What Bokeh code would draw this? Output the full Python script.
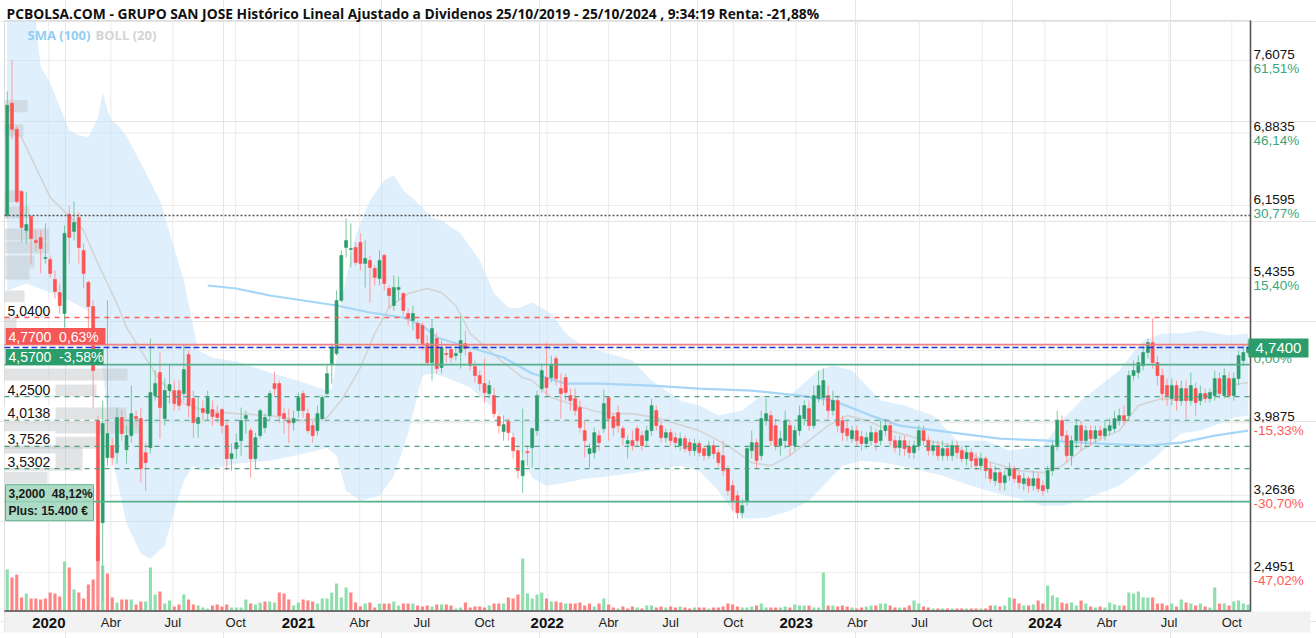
import datetime as dt
from bokeh.plotting import figure
from bokeh.models import Range1d
from bokeh.embed import file_html
from bokeh.resources import INLINE
from bokeh.core.properties import value

# ---------------- weekly candles (first week ends 2019-11-01) ----------------
opens = [
6.06,7.18,6.92,6.30,5.91,6.05,5.81,5.84,5.63,5.62, 5.42,5.29,5.08,6.07,5.90,6.04,5.71,5.39,5.15,4.01,
2.99,3.64,3.76,3.69,4.04,3.72,3.86,4.05,4.03,3.69, 3.74,4.26,4.49,4.03,4.31,4.31,4.31,4.28,4.67,4.23,
3.98,4.13,4.08,4.12,4.08,4.12,3.96,3.63,3.73,3.81, 4.03,3.91,3.63,3.86,3.94,4.06,4.38,4.38,4.08,4.01,
3.99,4.11,4.28,4.08,3.96,3.91,4.03,4.28,4.58,4.68, 5.21,5.74,5.72,5.74,5.79,5.58,5.61,5.53,5.43,5.66,
5.33,5.16,5.32,5.28,5.08,5.01,4.98,4.96,4.78,4.59, 4.83,4.54,4.68,4.72,4.66,4.69,4.78,4.69,4.55,4.46,
4.38,4.28,4.26,4.05,3.90,4.00,3.84,3.71,3.46,3.70, 3.74,3.91,4.33,4.44,4.44,4.63,4.33,4.44,4.26,4.23,
4.14,3.91,3.68,3.69,3.86,3.93,4.24,4.05,4.09,3.93, 3.78,3.81,3.93,3.86,3.81,3.91,4.11,3.96,3.84,3.89,
3.84,3.76,3.83,3.79,3.71,3.78,3.73,3.66,3.76,3.69, 3.66,3.53,3.36,3.26,3.09,3.21,3.71,3.79,3.66,4.01,
4.06,3.96,3.76,3.81,3.96,3.76,3.91,4.03,4.13,3.96, 4.23,4.24,4.26,4.11,4.21,4.01,3.93,3.83,3.91,3.85,
3.78,3.81,3.89,3.81,3.91,3.96,3.81,3.74,3.81,3.75, 3.69,3.76,3.91,3.81,3.71,3.76,3.66,3.73,3.66,3.76,
3.71,3.63,3.69,3.63,3.56,3.63,3.53,3.41,3.49,3.39, 3.46,3.53,3.46,3.38,3.43,3.36,3.43,3.36,3.33,3.51,
3.76,4.01,3.86,3.66,3.81,3.96,3.81,3.91,3.83,3.91, 3.86,3.91,3.93,4.01,4.06,4.06,4.46,4.49,4.56,4.69,
4.79,4.59,4.46,4.36,4.23,4.36,4.21,4.33,4.21,4.33, 4.21,4.28,4.23,4.26,4.43,4.26,4.43,4.26,4.43,4.61,
4.69]
closes = [
7.16,6.92,6.20,5.94,5.97,5.83,5.79,5.73,5.64,5.48, 5.30,5.16,5.88,5.84,5.99,5.74,5.48,5.15,4.51,2.61,
3.98,3.88,3.64,4.04,3.88,3.86,4.08,4.03,3.53,3.59, 4.29,4.38,4.14,4.31,4.37,4.18,4.16,4.52,4.16,3.99,
4.04,4.09,4.24,4.05,4.04,3.96,3.63,3.68,3.79,4.01, 4.06,3.63,3.84,4.11,4.04,4.28,4.33,4.06,4.03,3.99,
4.03,4.24,4.11,3.91,3.86,4.08,4.24,4.48,4.74,5.21, 5.66,5.81,5.73,5.59,5.58,5.63,5.54,5.44,5.61,5.38,
5.26,5.34,5.34,5.11,5.03,5.08,4.83,4.78,4.59,4.93, 4.53,4.74,4.67,4.64,4.68,4.81,4.73,4.56,4.46,4.38,
4.29,4.36,4.08,3.96,3.97,3.89,3.71,3.51,3.61,3.69, 3.93,4.26,4.51,4.34,4.56,4.43,4.28,4.29,4.21,4.11,
3.94,3.81,3.73,3.89,3.79,4.18,4.03,3.94,3.96,3.84, 3.81,3.76,3.81,3.76,3.91,4.16,3.96,3.84,3.89,3.81,
3.79,3.83,3.73,3.71,3.78,3.69,3.66,3.76,3.68,3.59, 3.51,3.31,3.21,3.09,3.16,3.73,3.79,3.61,4.03,4.08,
3.81,3.76,3.83,4.01,3.76,3.91,4.06,4.16,3.96,4.26, 4.36,4.41,4.11,4.21,3.96,3.89,3.86,3.91,3.81,3.78,
3.84,3.89,3.79,3.91,3.96,3.81,3.74,3.81,3.73,3.69, 3.76,3.91,3.81,3.71,3.76,3.66,3.73,3.66,3.76,3.69,
3.63,3.69,3.61,3.56,3.63,3.51,3.43,3.49,3.39,3.46, 3.53,3.43,3.39,3.43,3.36,3.43,3.33,3.31,3.51,3.76,
4.01,3.86,3.66,3.81,3.96,3.81,3.91,3.83,3.91,3.86, 3.93,3.96,4.03,4.06,4.01,4.46,4.51,4.59,4.69,4.79,
4.59,4.46,4.28,4.26,4.36,4.21,4.33,4.21,4.36,4.19, 4.28,4.23,4.29,4.43,4.28,4.46,4.26,4.43,4.66,4.69,
4.74]
highs = [
7.30,7.61,6.95,6.31,6.29,6.06,5.91,5.91,5.98,5.66, 5.51,5.38,5.96,6.16,6.20,6.09,5.78,5.41,5.21,4.06,
4.21,5.21,3.84,4.14,4.11,3.96,4.36,4.11,4.14,3.79, 4.83,4.51,4.69,4.43,4.56,4.41,4.41,4.78,4.71,4.31,
4.24,4.21,4.31,4.21,4.16,4.14,4.01,3.78,3.88,4.14, 4.11,3.94,3.89,4.13,4.08,4.31,4.50,4.41,4.14,4.13,
4.11,4.29,4.31,4.13,4.01,4.16,4.26,4.56,4.78,5.31, 5.71,6.03,5.98,5.79,5.88,5.81,5.66,5.56,5.71,5.68,
5.36,5.46,5.45,5.29,5.13,5.16,5.01,4.99,4.86,5.03, 4.89,4.81,4.76,4.76,4.76,5.06,4.91,4.71,4.61,4.51,
4.63,4.41,4.34,4.08,4.06,4.03,3.89,3.76,4.13,3.76, 3.94,4.31,4.58,4.79,4.66,4.66,4.48,4.48,4.33,4.33,
4.21,4.01,3.78,3.94,3.91,4.32,4.24,4.08,4.16,3.96, 3.86,3.91,3.96,3.91,3.96,4.23,4.16,4.01,3.93,3.93,
3.89,3.89,3.86,3.83,3.83,3.81,3.76,3.81,3.81,3.73, 3.81,3.56,3.41,3.31,3.23,3.76,3.91,3.83,4.11,4.23,
4.11,4.03,3.91,4.11,4.01,3.96,4.16,4.21,4.21,4.36, 4.51,4.53,4.36,4.31,4.26,4.06,4.01,3.96,3.96,3.91,
3.89,3.96,3.93,4.01,4.03,4.01,3.86,3.86,3.86,3.81, 3.81,3.96,3.96,3.86,3.81,3.81,3.81,3.79,3.81,3.81,
3.76,3.76,3.73,3.69,3.69,3.66,3.59,3.56,3.53,3.51, 3.59,3.56,3.51,3.49,3.46,3.51,3.49,3.41,3.56,3.81,
4.11,4.06,3.91,3.86,4.03,4.01,3.96,3.96,3.96,3.96, 4.01,4.03,4.11,4.13,4.16,4.51,4.61,4.66,4.76,4.83,
5.03,4.66,4.53,4.43,4.43,4.41,4.41,4.41,4.49,4.39, 4.36,4.33,4.33,4.51,4.49,4.53,4.49,4.49,4.71,4.76,
4.81]
lows = [
6.03,6.82,6.18,5.79,5.78,5.58,5.71,5.48,5.58,5.44, 5.23,5.08,4.94,5.58,5.81,5.58,5.33,4.91,4.14,2.16,
2.21,3.56,3.56,3.58,3.81,3.58,3.79,3.96,3.39,3.31, 3.68,4.21,3.83,3.96,4.18,4.11,4.11,4.21,4.04,3.84,
3.84,4.01,4.01,3.96,3.99,3.88,3.51,3.51,3.63,3.66, 3.88,3.44,3.53,3.83,3.89,4.01,4.26,3.99,3.88,3.79,
3.91,4.04,4.04,3.88,3.79,3.86,4.01,4.26,4.38,4.66, 5.19,5.64,5.54,5.56,5.51,5.34,5.19,5.36,5.36,5.31,
5.13,5.11,5.21,5.06,4.96,4.91,4.79,4.71,4.56,4.41, 4.48,4.48,4.59,4.59,4.61,4.53,4.66,4.51,4.39,4.31,
4.19,4.23,4.04,3.88,3.81,3.81,3.63,3.43,3.29,3.56, 3.54,3.86,4.29,4.26,4.39,4.36,4.03,4.21,4.11,4.06,
3.89,3.64,3.54,3.63,3.71,3.89,3.81,3.86,3.89,3.76, 3.63,3.71,3.76,3.71,3.76,3.86,3.91,3.79,3.79,3.76,
3.73,3.71,3.69,3.66,3.66,3.65,3.61,3.63,3.63,3.55, 3.46,3.26,3.11,3.03,3.03,3.16,3.63,3.53,3.61,3.96,
3.76,3.71,3.66,3.73,3.66,3.71,3.86,3.96,3.91,3.93, 4.19,4.16,4.03,4.06,3.89,3.81,3.81,3.79,3.76,3.71,
3.73,3.76,3.71,3.76,3.86,3.76,3.69,3.66,3.66,3.63, 3.63,3.71,3.76,3.66,3.66,3.61,3.61,3.61,3.61,3.63,
3.59,3.56,3.53,3.51,3.51,3.43,3.39,3.36,3.31,3.31, 3.41,3.39,3.33,3.31,3.29,3.31,3.29,3.26,3.29,3.46,
3.71,3.81,3.59,3.56,3.73,3.71,3.76,3.76,3.79,3.81, 3.81,3.86,3.89,3.96,3.96,4.01,4.41,4.43,4.51,4.63,
4.53,4.36,4.21,4.16,4.16,4.11,4.16,4.03,4.16,4.06, 4.16,4.19,4.19,4.21,4.23,4.23,4.23,4.21,4.36,4.56,
4.66]
# weekly volume, thousands of shares
volumes = [
410,330,360,130,170,120,120,110,120,180, 170,140,490,430,210,180,120,260,310,750,
450,370,130,80,110,110,110,60,90,90, 430,160,190,70,100,40,60,160,110,60,
50,30,20,50,60,40,60,30,30,30, 110,70,60,80,90,90,80,180,170,110,
50,80,110,100,90,70,120,120,180,270, 130,230,180,80,40,70,80,30,70,70,
70,90,50,70,70,70,50,40,50,40, 60,60,60,50,20,30,80,30,40,40,
30,50,70,70,70,130,120,160,520,170, 120,160,180,120,90,90,80,70,70,70,
80,50,70,40,70,120,60,30,20,40, 20,40,30,20,50,50,30,40,30,40,
30,40,30,20,30,30,30,20,30,30, 40,70,60,40,30,30,40,50,70,30,
30,30,30,40,30,60,50,50,50,30, 30,380,50,50,40,50,40,30,20,30,
40,50,50,70,70,50,30,30,30,50, 100,70,40,30,20,20,20,20,20,20,
20,20,20,20,20,20,50,50,40,50, 130,120,70,50,50,60,100,70,250,150,
130,80,70,80,50,100,70,40,30,40, 30,80,60,50,50,180,170,190,130,130,
130,70,70,50,70,40,110,80,70,50, 70,40,30,230,70,70,50,90,100,70,
60]

# ---------------- indicators (read at sampled weeks) ----------------
boll_up_week = [0,6,7,9,13,15,17,18,19,20,21,22,23,25,28,32,37,40,43,48,55,62,67,68,69,70,73,76,79,81,
                83,85,89,91,95,99,102,105,107,110,114,117,121,124,131,135,141,145,149,154,158,164,170,173,
                177,183,188,194,199,205,210,217,221,225,229,233,238,242,246,250,256,260]
boll_up = [8.0,8.0,7.55,7.38,6.91,6.86,6.84,6.94,7.03,7.29,7.11,7.0,6.97,6.85,6.58,6.21,5.41,4.71,4.64,4.6,
           4.49,4.39,4.31,4.33,4.61,5.21,5.86,6.21,6.41,6.46,6.31,6.23,6.04,6.01,5.88,5.61,5.28,5.14,5.13,5.19,
           5.08,4.88,4.74,4.71,4.61,4.41,4.21,4.16,4.06,4.11,4.26,4.26,4.51,4.56,4.51,4.21,4.16,4.06,3.81,3.81,
           3.71,3.76,4.01,4.21,4.36,4.51,4.81,4.88,4.88,4.91,4.86,4.88]
boll_lo_week = [0,4,9,13,17,20,22,25,28,30,33,35,37,39,41,48,55,62,67,69,71,74,78,81,84,87,89,92,97,104,
                108,110,113,117,121,125,130,134,141,145,149,152,155,159,164,168,172,175,179,184,190,196,202,
                207,212,217,221,225,229,233,237,241,244,246,250,253,256,260]
boll_lo = [5.31,5.38,5.29,5.21,5.11,4.51,3.64,2.98,2.68,2.63,2.76,3.11,3.41,3.56,3.51,3.58,3.61,3.68,3.74,3.66,
           3.31,3.21,3.26,3.46,3.88,4.46,4.48,4.44,4.34,4.04,3.66,3.44,3.36,3.39,3.43,3.45,3.48,3.51,3.56,3.51,
           3.31,3.11,3.03,3.04,3.11,3.21,3.41,3.56,3.61,3.59,3.53,3.46,3.36,3.29,3.23,3.16,3.16,3.21,3.29,3.36,
           3.51,3.66,3.81,3.88,3.91,3.96,4.03,4.06]
boll_mid_week = [0,3,9,16,19,23,25,28,32,37,41,48,55,62,67,70,74,77,80,84,88,91,94,97,101,104,108,110,114,119,
                 125,131,136,145,151,156,160,164,168,172,176,180,185,191,198,205,212,217,221,225,229,233,237,
                 242,246,251,256,260]
boll_mid = [6.96,6.84,6.24,5.91,5.58,5.18,4.94,4.71,4.41,4.18,4.11,4.08,4.06,4.01,4.04,4.21,4.54,4.88,5.14,5.28,
            5.33,5.29,5.16,4.88,4.71,4.59,4.44,4.41,4.24,4.16,4.08,4.08,4.04,3.91,3.76,3.59,3.56,3.66,3.81,3.96,
            4.06,4.01,3.91,3.83,3.76,3.61,3.51,3.49,3.56,3.71,3.83,3.91,4.16,4.23,4.21,4.26,4.36,4.39]
sma_week = [42,48,55,62,69,76,83,87,90,97,104,110,117,124,135,145,156,166,173,181,187,198,208,218,229,239,246,253,260]
sma100 = [5.36,5.33,5.26,5.21,5.16,5.09,5.04,4.96,4.84,4.74,4.64,4.48,4.38,4.38,4.36,4.33,4.31,4.26,4.21,4.06,
          3.96,3.89,3.83,3.81,3.78,3.76,3.79,3.86,3.91]

# volume-at-price profile (left side)
profile_price = [7.15,6.91,6.25,6.09,5.87,5.74,5.60,5.48,5.25,5.11,4.98,4.47,4.31,4.08,3.94,3.79,3.69,3.57,3.44]
profile_amount = [23,19,17,25,45,45,30,25,20,40,12,123,92,122,135,92,78,78,43]

# price axis
tick_prices = [7.6075, 6.8835, 6.1595, 5.4355, 4.7115, 3.9875, 3.2636, 2.4951]
tick_texts = ["7,6075", "6,8835", "6,1595", "5,4355", "4,7115", "3,9875", "3,2636", "2,4951"]
tick_pcts = ["61,51%", "46,14%", "30,77%", "15,40%", "0,00%", "-15,33%", "-30,70%", "-47,02%"]

# level lines and their tags
max_line = 6.06
resist_level, resist_text = 5.04, "5,0400"
red_level, red_text = 4.77, "4,7700\u00a0\u00a00,63%"
last_price, last_text = 4.74, "4,7400"
green_level, green_text = 4.57, "4,5700\u00a0\u00a0-3,58%"
support_levels = [4.25, 4.0138, 3.7526, 3.5302]
support_texts = ["4,2500", "4,0138", "3,7526", "3,5302"]
buy_level, buy_texts = 3.20, ["3,2000\u00a0\u00a048,12%", "Plus: 15.400 €"]

month_names = {1: "", 4: "Abr", 7: "Jul", 10: "Oct"}
title_text = ("PCBOLSA.COM - GRUPO SAN JOSE Histórico Lineal Ajustado a Dividenos "
              "25/10/2019 - 25/10/2024 , 9:34:19 Renta: -21,88%")

# ---------------- helpers ----------------
EPOCH = dt.datetime(1970, 1, 1)
DAY = 86400000.0


def ms(d):
    return (d - EPOCH).total_seconds() * 1000.0


def ypix(py):
    # price shown at a given pixel row of the chart
    return 7.6075 - (py - 60) / 100.1


n = len(closes)
first_week = dt.datetime(2019, 11, 1)
xs = [ms(first_week + dt.timedelta(weeks=i)) for i in range(n)]
X0 = ms(dt.datetime(2019, 10, 28))          # left edge of the price pane
X1 = X0 + 1827.5 * DAY                      # right edge of the price pane (axis line)
K = (X1 - X0) / 1246.0                      # ms per pixel
XS, XE = X0 - 4 * K, X0 + (1316 - 4) * K
PT, PB = ypix(20), ypix(610)                # top / bottom of the price pane

GREEN, RED = "#2b9d6c", "#ff5252"
GWICK, RWICK = "#78c8a2", "#ff9c9c"
FONT = value("Liberation Sans")

p = figure(width=1316, height=638, x_range=Range1d(XS, XE), y_range=Range1d(ypix(638), ypix(0)),
           x_axis_location=None, y_axis_location=None,
           output_backend="svg", toolbar_location=None,
           min_border=0, min_border_left=0, min_border_right=0, min_border_top=0, min_border_bottom=0,
           background_fill_color="white", border_fill_color="white", outline_line_color=None)
p.extra_y_ranges = {"vol": Range1d(-280, 6100)}
p.extra_x_ranges = {"px": Range1d(0, 1316)}

# quarter ticks
qticks, qlabels, years = [], [], []
for yr in range(2020, 2025):
    for mo in (1, 4, 7, 10):
        t = ms(dt.datetime(yr, mo, 1))
        qticks.append(t)
        if mo == 1:
            years.append((t, str(yr)))
        else:
            qlabels.append((t, month_names[mo]))

# grid
p.segment(x0=qticks, x1=qticks, y0=[PB] * len(qticks), y1=[PT] * len(qticks), line_color="#ebebeb", line_width=1)
p.segment(x0=[X0] * len(tick_prices), x1=[X1] * len(tick_prices), y0=tick_prices, y1=tick_prices,
          line_color="#ebebeb", line_width=1)

# Bollinger band
band_x = [xs[i] for i in boll_up_week] + [xs[i] for i in reversed(boll_lo_week)]
band_y = list(boll_up) + list(reversed(boll_lo))
p.patch(band_x, band_y, fill_color="#bfe0f8", fill_alpha=0.5, line_color=None)
p.line([xs[i] for i in boll_mid_week], boll_mid, line_color="#d4d4d4", line_width=1.6)
p.line([xs[i] for i in sma_week], sma100, line_color="#a6d6f7", line_width=2.2)

# volume profile
p.hbar(y=profile_price, height=0.12, left=4, right=[4 + a for a in profile_amount], x_range_name="px",
       fill_color="#c4c8cc", fill_alpha=0.5, line_color=None)

# volume bars
vcol = []
for i in range(n):
    upv = True if i == 0 else closes[i] >= closes[i - 1]
    vcol.append("#8fdfae" if upv else "#ff8585")
p.vbar(x=xs, top=volumes, bottom=0, width=4.6 * DAY, y_range_name="vol", fill_color=vcol, line_color=None)

# candles
up = [c >= o for o, c in zip(opens, closes)]
hi = [max(h, o, c) for h, o, c in zip(highs, opens, closes)]
lo = [min(l, o, c) for l, o, c in zip(lows, opens, closes)]
p.segment(x0=xs, x1=xs, y0=lo, y1=hi, line_color=[GWICK if u else RWICK for u in up], line_width=1)
p.vbar(x=xs, top=[max(o, c) for o, c in zip(opens, closes)], bottom=[min(o, c) for o, c in zip(opens, closes)],
       width=4.4 * DAY, fill_color=[GREEN if u else RED for u in up],
       line_color=[GREEN if u else RED for u in up], line_width=0.6)

# pane borders / axis lines
p.segment(x0=[X0, X0], x1=[X1, X0], y0=[PT, PT], y1=[PT, ypix(632)], line_color="#dddddd", line_width=1)
p.quad(left=[4], right=[1310], top=[ypix(611)], bottom=[ypix(632)], x_range_name="px",
       fill_color="#f2f2f2", line_color=None)
p.segment(x0=[X0], x1=[X1], y0=[ypix(610.5)], y1=[ypix(610.5)], line_color="#444444", line_width=1.6)
p.segment(x0=[X1], x1=[X1], y0=[ypix(611)], y1=[PT], line_color="#555555", line_width=1.6)

# horizontal level lines
def hline(level, color, dash="solid", width=1.2):
    p.segment(x0=[X0], x1=[X1], y0=[level], y1=[level], line_color=color, line_dash=dash, line_width=width)

hline(max_line, "#555555", "2 2", 1.5)
hline(resist_level, "#ff5f5f", "5 5", 1.3)
hline(red_level, "#f07f7f", "solid", 1.8)
hline(last_price, "#2233dd", "6 3", 1.5)
hline(green_level, "#55b08b", "solid", 1.8)
for lv in support_levels:
    hline(lv, "#4e9f7d", "5 5", 1.2)
hline(buy_level, "#55b08b", "solid", 1.8)

# left tags: boxes
tag_w = 51
p.quad(left=[4] * 5, right=[4 + tag_w] * 5,
       top=[ypix(302)] + [lv + 0.15 for lv in support_levels],
       bottom=[resist_level + 0.015] + [lv + 0.01 for lv in support_levels],
       x_range_name="px", fill_color="white", line_color=None)
p.quad(left=[5], right=[105], top=[red_level + 0.165], bottom=[red_level], x_range_name="px",
       fill_color="#f65858", line_color=None)
p.quad(left=[5], right=[103], top=[green_level + 0.155], bottom=[green_level - 0.005], x_range_name="px",
       fill_color="#2b9d6c", line_color=None)
p.quad(left=[5], right=[93], top=[buy_level + 0.17], bottom=[buy_level - 0.19], x_range_name="px",
       fill_color="#9ed6bb", fill_alpha=0.85, line_color="#62b48e", line_width=1)

# left tags: texts
p.text(x=[7] * 5, y=[resist_level] + support_levels, text=[resist_text] + support_texts, x_range_name="px",
       y_offset=-7, text_font=FONT, text_font_size=value("14px"), text_color="#111111",
       text_baseline="middle", text_align="left")
p.text(x=[8, 8], y=[red_level, green_level], text=[red_text, green_text], x_range_name="px",
       y_offset=-8, text_font=FONT, text_font_size=value("14px"), text_color="white",
       text_baseline="middle", text_align="left")
p.text(x=[8, 8], y=[buy_level, buy_level], text=buy_texts, x_range_name="px", y_offset=[-8, 9],
       text_font=FONT, text_font_size=value("12px"), text_font_style="bold", text_color="#1a1a1a",
       text_baseline="middle", text_align="left")

# right axis labels
pct_colors = ["#ff5a5a" if s.startswith("-") else "#3aa67b" for s in tick_pcts]
p.text(x=[X1] * len(tick_prices), y=tick_prices, text=tick_texts, x_offset=3, y_offset=-6,
       text_font=FONT, text_font_size=value("13.5px"), text_color="#111111",
       text_baseline="middle", text_align="left")
p.text(x=[X1] * len(tick_prices), y=tick_prices, text=tick_pcts, x_offset=3, y_offset=8,
       text_font=FONT, text_font_size=value("13.5px"), text_color=pct_colors,
       text_baseline="middle", text_align="left")
p.quad(left=[1248], right=[1308], top=[last_price + 0.09], bottom=[last_price - 0.10], x_range_name="px",
       fill_color="#2b9d6c", line_color=None)
p.text(x=[1278], y=[last_price], text=[last_text], x_range_name="px", text_font=FONT,
       text_font_size=value("15px"), text_color="white", text_baseline="middle", text_align="center")

# bottom axis labels
p.text(x=[t for t, _ in qlabels], y=[ypix(622)] * len(qlabels), text=[s for _, s in qlabels],
       text_font=FONT, text_font_size=value("13px"), text_color="#222222",
       text_baseline="middle", text_align="center")
p.text(x=[t for t, _ in years], y=[ypix(622)] * len(years), text=[s for _, s in years],
       text_font=FONT, text_font_size=value("15px"), text_font_style="bold", text_color="#111111",
       text_baseline="middle", text_align="center")

# title and indicator legend
p.text(x=[6], y=[ypix(13)], text=[title_text], x_range_name="px", text_font=value("Open Sans"),
       text_font_size=value("13.8px"), text_font_style="bold", text_color="#111111",
       text_baseline="middle", text_align="left")
p.text(x=[27, 95], y=[ypix(34)] * 2, text=["SMA (100)", "BOLL (20)"], x_range_name="px",
       text_font=value("Open Sans"), text_font_size=value("13px"), text_font_style="bold",
       text_color=["#92cdf4", "#d4d4d4"], text_baseline="middle", text_align="left")

open("out.html", "w").write(file_html(p, INLINE))
